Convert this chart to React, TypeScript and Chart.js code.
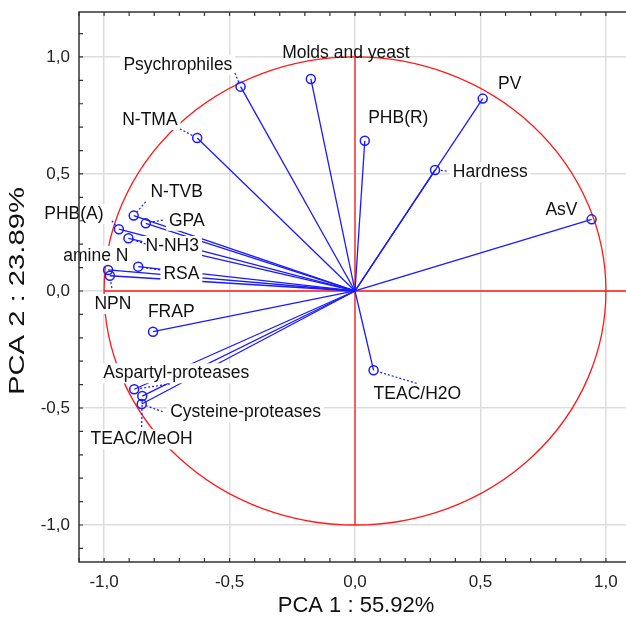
import React, { useEffect, useRef } from "react";
import { Chart, registerables } from "chart.js";

Chart.register(...registerables);

const variables = [
  "Psychrophiles", "Molds and yeast", "PV", "N-TMA", "PHB(R)", "Hardness", "AsV",
  "N-TVB", "GPA", "PHB(A)", "N-NH3", "amine N", "RSA", "NPN", "FRAP",
  "Aspartyl-proteases", "Cysteine-proteases", "TEAC/MeOH", "TEAC/H2O",
];
const pca1 = [
  -0.456, -0.176, 0.509, -0.629, 0.039, 0.319, 0.943,
  -0.882, -0.834, -0.941, -0.903, -0.984, -0.864, -0.977, -0.805,
  -0.880, -0.850, -0.848, 0.074,
];
const pca2 = [
  0.873, 0.906, 0.822, 0.654, 0.642, 0.517, 0.306,
  0.322, 0.289, 0.264, 0.225, 0.090, 0.104, 0.065, -0.174,
  -0.420, -0.483, -0.449, -0.339,
];
const majorTicks = [-1, -0.5, 0, 0.5, 1];
const xTitle = "PCA 1 : 55.92%";
const yTitle = "PCA 2 : 23.89%";

// label layout: offset of label centre from the point (px), leader start offset (px), white box
const labelOffsets: [number, number][] = [
  [-62.7, -21.7], [35, -25.5], [27, -14.7], [-47.3, -18], [33.5, -22.7], [55.2, 2], [-30.2, -9.3],
  [43, -23], [41, -2.6], [-45, -15.3], [43.8, 7.7], [-12.3, -14], [43.2, 7.3], [3, 28.3], [18.2, -20],
  [42, -16], [103.8, 8.3], [-0.6, 43.3], [43.8, 24],
];
const leaderOffsets: ([number, number] | null)[] = [
  [-5.7, -13.7], null, null, [-17.3, -9], null, [11.7, 1], null,
  [12, -13.7], [17, -3.3], [-7, -8.3], [17.3, 5.7], null, [21.7, 3.3], [2, 12.3], null,
  [35.7, -5.3], [21, 7.7], [-0.6, 31], [43, 13],
];
const labelBox = variables.map((v) => v !== "Molds and yeast");

const BLUE = "#1a1aff";
const RED = "#ff1a1a";
const FONT = "Liberation Sans, Arial, sans-serif";

const fmt = (v: number) => v.toFixed(1).replace(".", ",");

const decorPlugin = {
  id: "decor",
  beforeDatasetsDraw(chart: any) {
    const { ctx, chartArea, scales } = chart;
    const xs = scales.x, ys = scales.y;
    const cx = xs.getPixelForValue(0), cy = ys.getPixelForValue(0);
    const rx = xs.getPixelForValue(1) - cx, ry = cy - ys.getPixelForValue(1);
    ctx.save();
    ctx.beginPath();
    ctx.rect(chartArea.left, chartArea.top, chart.width - chartArea.left, chartArea.bottom - chartArea.top);
    ctx.clip();
    ctx.strokeStyle = RED;
    ctx.lineWidth = 1.3;
    ctx.beginPath();
    ctx.ellipse(cx, cy, rx, ry, 0, 0, Math.PI * 2);
    ctx.stroke();
    ctx.beginPath();
    ctx.moveTo(xs.getPixelForValue(-1), cy);
    ctx.lineTo(chart.width, cy);
    ctx.moveTo(cx, ys.getPixelForValue(1));
    ctx.lineTo(cx, ys.getPixelForValue(-1));
    ctx.stroke();
    ctx.restore();
  },
  afterDatasetDraw(chart: any, args: any) {
    if (args.index !== 1) return;
    const { ctx, scales } = chart;
    const xs = scales.x, ys = scales.y;
    ctx.save();
    ctx.font = `17.5px ${FONT}`;
    ctx.textAlign = "center";
    ctx.textBaseline = "middle";
    variables.forEach((name, i) => {
      const px = xs.getPixelForValue(pca1[i]);
      const py = ys.getPixelForValue(pca2[i]);
      const lx = px + labelOffsets[i][0];
      const ly = py + labelOffsets[i][1];
      const w = ctx.measureText(name).width;
      const lead = leaderOffsets[i];
      if (labelBox[i]) {
        ctx.fillStyle = "#ffffff";
        ctx.fillRect(lx - w / 2 - 3, ly - 10, w + 6, 20);
      }
      if (lead) {
        const sx = px + lead[0], sy = py + lead[1];
        const d = Math.hypot(sx - px, sy - py) || 1;
        const ex = px + ((sx - px) / d) * 4.5, ey = py + ((sy - py) / d) * 4.5;
        ctx.strokeStyle = BLUE;
        ctx.lineWidth = 1.2;
        ctx.setLineDash([2, 2]);
        ctx.beginPath();
        ctx.moveTo(sx, sy);
        ctx.lineTo(ex, ey);
        ctx.stroke();
        ctx.setLineDash([]);
      }
      ctx.fillStyle = "#111111";
      ctx.fillText(name, lx, ly);
    });
    ctx.restore();
  },
  afterDraw(chart: any) {
    const { ctx, chartArea, scales } = chart;
    const xs = scales.x, ys = scales.y;
    ctx.save();
    ctx.strokeStyle = "#333333";
    ctx.lineWidth = 1.5;
    ctx.beginPath();
    ctx.moveTo(chart.width, chartArea.top);
    ctx.lineTo(chartArea.left, chartArea.top);
    ctx.lineTo(chartArea.left, chartArea.bottom);
    ctx.lineTo(chart.width, chartArea.bottom);
    ctx.stroke();
    ctx.lineWidth = 1.2;
    ctx.beginPath();
    for (let k = -11; k <= 11; k++) {
      const v = k / 10;
      if (v >= xs.min - 1e-9 && v <= xs.max + 1e-9) {
        const x = xs.getPixelForValue(v);
        ctx.moveTo(x, chartArea.bottom);
        ctx.lineTo(x, chartArea.bottom - 4);
        ctx.moveTo(x, chartArea.top);
        ctx.lineTo(x, chartArea.top + 4);
      }
      if (v >= ys.min - 1e-9 && v <= ys.max + 1e-9) {
        const y = ys.getPixelForValue(v);
        ctx.moveTo(chartArea.left, y);
        ctx.lineTo(chartArea.left + 4, y);
      }
    }
    ctx.stroke();
    ctx.fillStyle = "#111111";
    ctx.font = `22px ${FONT}`;
    ctx.textAlign = "center";
    ctx.textBaseline = "middle";
    ctx.fillText(xTitle, 356, 606);
    ctx.translate(18, 291);
    ctx.rotate(-Math.PI / 2);
    const w = ctx.measureText(yTitle).width;
    ctx.scale(208 / w, 1);
    ctx.fillText(yTitle, 0, 0);
    ctx.restore();
  },
};

export default function App() {
  const ref = useRef<HTMLCanvasElement | null>(null);
  useEffect(() => {
    if (!ref.current) return;
    const pointsDataset = {
      data: variables.map((_, i) => ({ x: pca1[i], y: pca2[i] })),
      showLine: false,
      pointRadius: 4.5,
      pointHoverRadius: 4.5,
      pointBorderColor: BLUE,
      pointBackgroundColor: "rgba(0,0,0,0)",
      pointBorderWidth: 1.5,
    };
    const lineDatasets = variables.map((_, i) => ({
      data: [{ x: 0, y: 0 }, { x: pca1[i], y: pca2[i] }],
      showLine: true,
      borderColor: BLUE,
      borderWidth: 1.3,
      pointRadius: 0,
      pointHoverRadius: 0,
    }));
    const tickCfg = (padding: number) => ({
      color: "#222222",
      font: { size: 17, family: FONT },
      padding,
      callback: (v: any) => fmt(Number(v)),
    });
    const chart = new Chart(ref.current, {
      type: "scatter",
      data: { datasets: [pointsDataset, ...lineDatasets] as any },
      options: {
        animation: false,
        responsive: false,
        events: [],
        layout: { autoPadding: false, padding: { top: 12, left: 0, right: 0, bottom: 0 } },
        plugins: { legend: { display: false }, tooltip: { enabled: false } },
        scales: {
          x: {
            type: "linear",
            min: -1.1,
            max: 1.08,
            border: { display: false },
            grid: { color: "#dddddd", lineWidth: 1.5, drawTicks: false },
            ticks: tickCfg(10) as any,
            afterBuildTicks: (s: any) => { s.ticks = majorTicks.map((v) => ({ value: v })); },
            afterFit: (s: any) => {
              s.height = 62;
              s.paddingLeft = 0; s.paddingRight = 0; s.paddingTop = 0; s.paddingBottom = 0;
            },
          },
          y: {
            type: "linear",
            min: -1.158,
            max: 1.192,
            border: { display: false },
            grid: { color: "#dddddd", lineWidth: 1.5, drawTicks: false },
            ticks: tickCfg(9) as any,
            afterBuildTicks: (s: any) => { s.ticks = majorTicks.map((v) => ({ value: v })); },
            afterFit: (s: any) => {
              s.width = 79;
              s.paddingLeft = 0; s.paddingRight = 0; s.paddingTop = 0; s.paddingBottom = 0;
            },
          },
        },
      },
      plugins: [decorPlugin],
    });
    return () => chart.destroy();
  }, []);
  return (
    <div style={{ position: "absolute", left: 0, top: 0, width: 626, height: 624, background: "#fff", overflow: "hidden" }}>
      <canvas ref={ref} width={626} height={624} style={{ display: "block" }} />
    </div>
  );
}
